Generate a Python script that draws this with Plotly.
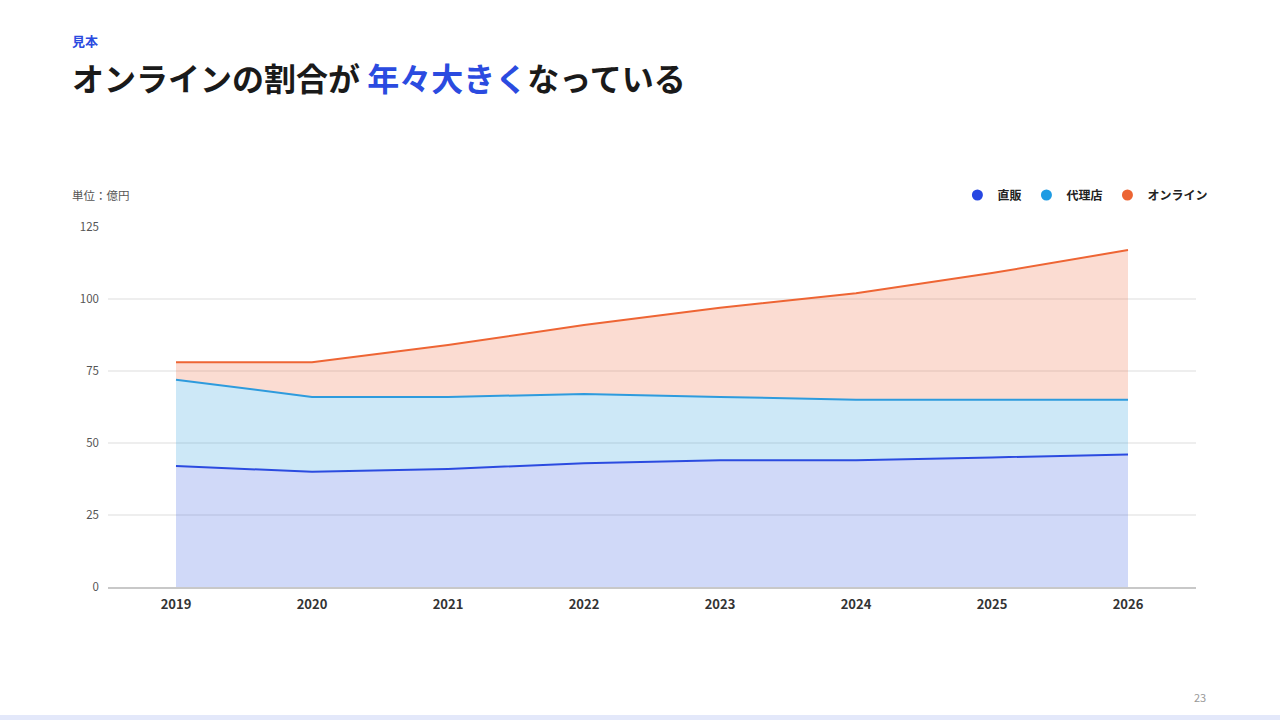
import plotly.graph_objects as go

years = ["2019", "2020", "2021", "2022", "2023", "2024", "2025", "2026"]
direct = [42, 40, 41, 43, 44, 44, 45, 46]
agency = [30, 26, 25, 24, 22, 21, 20, 19]
online = [6, 12, 18, 24, 31, 37, 44, 52]
series_names = ["直販", "代理店", "オンライン"]
y_ticks = [0, 25, 50, 75, 100, 125]

line_colors = ["#2B4BE0", "#2E9BDD", "#EE6534"]
legend_colors = ["#2747E2", "#1E9BE3", "#EC6433"]
fill_colors = ["rgba(60,95,225,0.24)", "rgba(70,170,225,0.27)", "rgba(240,120,80,0.26)"]

FONT = "Noto Sans CJK JP"
fig = go.Figure()

for name, vals, lc, fc in zip(series_names, [direct, agency, online], line_colors, fill_colors):
    fig.add_trace(go.Scatter(
        x=years, y=vals, name=name, stackgroup="one", mode="lines",
        line=dict(color=lc, width=2), fillcolor=fc, showlegend=False,
        hoverinfo="x+y+name",
    ))

for name, col in zip(series_names, legend_colors):
    fig.add_trace(go.Scatter(
        x=[None], y=[None], name=name, mode="markers",
        marker=dict(symbol="circle", size=11, color=col), showlegend=True,
    ))

# right-side labels at midpoint of each band in final year
cum = 0
for name, vals in zip(series_names, [direct, agency, online]):
    mid = cum + vals[-1] / 2
    cum += vals[-1]
    fig.add_annotation(x=years[-1], y=mid, xref="x", yref="y", text="<b>" + name + "</b>",
                       showarrow=False, xanchor="left", yanchor="middle", xshift=8,
                       font=dict(family=FONT, size=12, color="#222222"))

fig.add_annotation(x=-0.035, y=1.0889, xref="paper", yref="paper", text="単位：億円",
                   showarrow=False, xanchor="left", yanchor="middle",
                   font=dict(family=FONT, size=11.5, color="#555555"))
fig.add_annotation(x=-0.035, y=1.519, xref="paper", yref="paper", text="<b>見本</b>",
                   showarrow=False, xanchor="left", yanchor="middle",
                   font=dict(family=FONT, size=13, color="#2B4BE0"))
fig.add_annotation(x=1.011, y=-0.3056, xref="paper", yref="paper", text="23",
                   showarrow=False, xanchor="right", yanchor="middle",
                   font=dict(family=FONT, size=11, color="#999999"))

fig.add_shape(type="rect", xref="paper", yref="paper", x0=-0.1, x1=1.08, y0=-0.372, y1=-0.3556,
              line=dict(width=0), fillcolor="#E3E8FA", layer="below")

fig.update_layout(
    width=1280, height=720,
    margin=dict(l=108, r=84, t=227, b=133),
    paper_bgcolor="white", plot_bgcolor="white",
    font=dict(family=FONT, color="#333333"),
    title=dict(
        text="<b>オンラインの割合が <span style='color:#2B4BE0'>年々大きく</span>なっている</b>",
        xref="container", yref="container", x=72 / 1280, xanchor="left",
        y=1 - 80 / 720, yanchor="middle",
        font=dict(family=FONT, size=32, color="#1A1A1A"),
    ),
    legend=dict(orientation="h", x=1.016, xanchor="right", y=1.0889, yanchor="middle",
                traceorder="normal",
                font=dict(family=FONT, size=12, color="#222222", weight="bold"),
                itemwidth=30, bgcolor="rgba(0,0,0,0)"),
    hovermode="x unified",
)

fig.update_xaxes(type="category", range=[-0.5, 7.5], showgrid=False, zeroline=False,
                 showline=True, linecolor="#C8C8C8", linewidth=2, ticks="",
                 tickfont=dict(family=FONT, size=13, color="#333333", weight="bold"),
                 ticklabelstandoff=4)
fig.update_yaxes(range=[0, 125], tickvals=y_ticks, showgrid=True, gridcolor="#EEEEEE",
                 gridwidth=1.5, zeroline=False, showline=False, ticks="",
                 tickfont=dict(family=FONT, size=11.5, color="#555555"),
                 ticklabelstandoff=8)

fig.write_html("out.html", config={"displayModeBar": False},
               post_script="document.body.style.margin='0';document.body.style.overflow='hidden';")
